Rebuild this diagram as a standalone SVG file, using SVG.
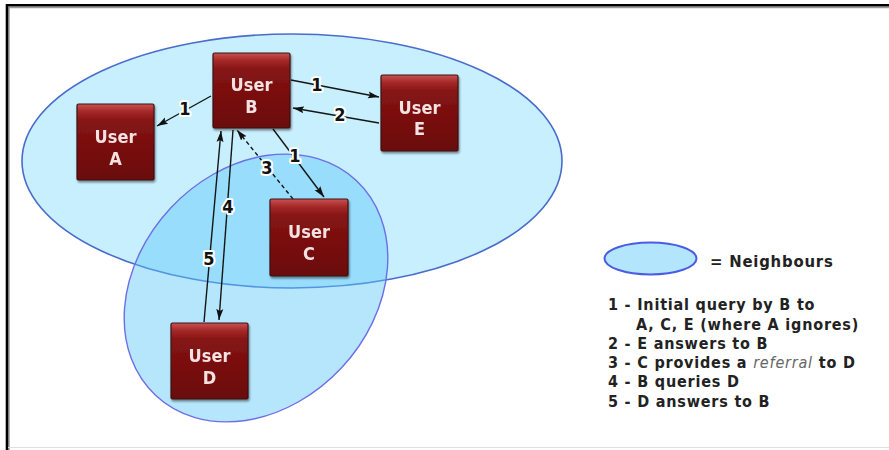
<svg xmlns="http://www.w3.org/2000/svg" width="889" height="450" viewBox="0 0 889 450">
  <defs>
    <linearGradient id="boxFill" x1="0" y1="0" x2="0" y2="1">
      <stop offset="0" stop-color="#c85252"/>
      <stop offset="0.1" stop-color="#a52828"/>
      <stop offset="0.22" stop-color="#851414"/>
      <stop offset="1" stop-color="#6a0808"/>
    </linearGradient>
    <filter id="boxShadow" x="-10%" y="-10%" width="125%" height="125%">
      <feGaussianBlur in="SourceAlpha" stdDeviation="1.2"/>
      <feOffset dx="1" dy="1.5" result="s"/>
      <feComponentTransfer><feFuncA type="linear" slope="0.45"/></feComponentTransfer>
      <feMerge><feMergeNode/><feMergeNode in="SourceGraphic"/></feMerge>
    </filter>
    <marker id="arrow" markerUnits="userSpaceOnUse" markerWidth="12" markerHeight="8" refX="11" refY="4" orient="auto">
      <path d="M0,0.5 L11,4 L0,7.5 L2,4 z" fill="#111"/>
    </marker>
  </defs>
  <style>
    .user rect { fill: url(#boxFill); stroke: #3b1418; stroke-width: 1.2; }
    .user text { font-family: "DejaVu Sans Condensed", "DejaVu Sans", sans-serif; font-stretch: condensed; font-weight: bold; font-size: 18px; fill: #f4e2e2; text-anchor: middle; }
    .link { stroke: #151515; stroke-width: 1.4; fill: none; marker-end: url(#arrow); }
    .dashed { stroke-dasharray: 4 3; }
    .num { font-family: "DejaVu Sans Condensed", "DejaVu Sans", sans-serif; font-stretch: condensed; font-weight: bold; font-size: 18px; fill: #111; text-anchor: middle; stroke: #fff; stroke-width: 4; stroke-linejoin: round; paint-order: stroke; }
    .legend { font-family: "DejaVu Sans Condensed", "DejaVu Sans", sans-serif; font-stretch: condensed; font-weight: bold; font-size: 16px; fill: #222; letter-spacing: 0.8px; }
    .legend-title { font-family: "DejaVu Sans Condensed", "DejaVu Sans", sans-serif; font-stretch: condensed; font-size: 16.5px; font-weight: bold; fill: #222; letter-spacing: 0.8px; }
  </style>

  <rect x="0" y="0" width="889" height="450" fill="#fff"/>

  <!-- frame -->
  <g id="frame" fill="none">
    <path d="M9,450 V7.5 H889" stroke="#9a9a9a" stroke-width="1.5"/>
    <path d="M7,450 V5.2 H889" stroke="#000" stroke-width="2.6"/>
    <line x1="8" y1="447.5" x2="889" y2="447.5" stroke="#dedede" stroke-width="1"/>
  </g>

  <!-- neighbourhoods -->
  <g id="neighbours">
    <ellipse cx="292" cy="161" rx="270" ry="127" fill="#c8effe" stroke="#4a6ccc" stroke-width="1.6"/>
    <ellipse cx="256" cy="288" rx="147" ry="117" transform="rotate(-47 256 288)" fill="#5ec8f8" fill-opacity="0.45" stroke="#6d6ee6" stroke-width="1.4"/>
  </g>

  <!-- connectors -->
  <g id="connectors">
    <line class="link" x1="211" y1="96" x2="157" y2="126"/>
    <line class="link" x1="291" y1="80" x2="379" y2="97"/>
    <line class="link" x1="379" y1="123" x2="293" y2="108"/>
    <line class="link" x1="273" y1="129" x2="324" y2="197"/>
    <line class="link dashed" x1="293" y1="199" x2="237" y2="130"/>
    <line class="link" x1="233" y1="130" x2="219" y2="320"/>
    <line class="link" x1="204" y1="322" x2="221" y2="131"/>
    <text class="num" x="185" y="115">1</text>
    <text class="num" x="317" y="91">1</text>
    <text class="num" x="340" y="121">2</text>
    <text class="num" x="295" y="162">1</text>
    <text class="num" x="267" y="174">3</text>
    <text class="num" x="228" y="213">4</text>
    <text class="num" x="209" y="265">5</text>
  </g>

  <!-- users -->
  <g id="user-a" class="user" filter="url(#boxShadow)">
    <rect x="77" y="104" width="77" height="76" rx="1.5"/>
    <text x="115.5" y="143">User</text>
    <text x="115.5" y="165">A</text>
  </g>
  <g id="user-b" class="user" filter="url(#boxShadow)">
    <rect x="213" y="53" width="77" height="75" rx="1.5"/>
    <text x="251.5" y="91">User</text>
    <text x="251.5" y="113">B</text>
  </g>
  <g id="user-e" class="user" filter="url(#boxShadow)">
    <rect x="381" y="75" width="77" height="76" rx="1.5"/>
    <text x="419.5" y="114">User</text>
    <text x="419.5" y="135">E</text>
  </g>
  <g id="user-c" class="user" filter="url(#boxShadow)">
    <rect x="270" y="199" width="78" height="77" rx="1.5"/>
    <text x="309" y="238">User</text>
    <text x="309" y="260">C</text>
  </g>
  <g id="user-d" class="user" filter="url(#boxShadow)">
    <rect x="171" y="323" width="77" height="76" rx="1.5"/>
    <text x="209.5" y="362">User</text>
    <text x="209.5" y="384">D</text>
  </g>

  <!-- legend -->
  <g id="legend">
    <ellipse cx="650.5" cy="258.5" rx="46" ry="16" fill="#b3e6fd" stroke="#4b5ce4" stroke-width="2"/>
    <text class="legend-title" x="710" y="267">= Neighbours</text>
    <text class="legend" x="608" y="310">1 - Initial query by B to</text>
    <text class="legend" x="636" y="330">A, C, E (where A ignores)</text>
    <text class="legend" x="608" y="349">2 - E answers to B</text>
    <text class="legend" x="608" y="368">3 - C provides a <tspan font-style="italic" font-weight="normal" fill="#666">referral</tspan> to D</text>
    <text class="legend" x="608" y="387">4 - B queries D</text>
    <text class="legend" x="608" y="407">5 - D answers to B</text>
  </g>
</svg>
